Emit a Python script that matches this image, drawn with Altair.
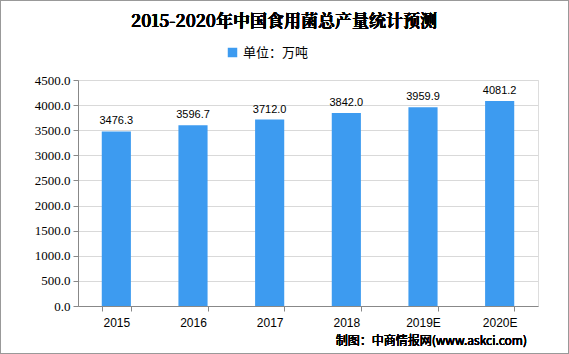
import altair as alt
import pandas as pd

years = ["2015", "2016", "2017", "2018", "2019E", "2020E"]
values = [3476.3, 3596.7, 3712.0, 3842.0, 3959.9, 4081.2]
series = "单位：万吨"
title_text = "2015-2020年中国食用菌总产量统计预测"
source_text = "制图：中商情报网(www.askci.com)"
y_ticks = [0, 500, 1000, 1500, 2000, 2500, 3000, 3500, 4000, 4500]

df = pd.DataFrame({"year": years, "value": values, "series": [series] * len(years)})

W, H = 460, 226
L, T = 78, 80

x = alt.X("year:N", sort=years, title=None,
          scale=alt.Scale(paddingInner=0.62, paddingOuter=0.31),
          axis=alt.Axis(labelAngle=0, tickBand="extent", domainColor="#888888", tickColor="#888888",
                        labelFont="Liberation Sans", labelFontSize=12, labelColor="#000000",
                        labelPadding=6, tickSize=5))
y = alt.Y("value:Q", title=None,
          scale=alt.Scale(domain=[0, 4500], nice=False),
          axis=alt.Axis(values=y_ticks, format=".1f", domainColor="#888888",
                        tickColor="#888888", gridColor="#d9d9d9", labelFont="Liberation Serif",
                        labelFontSize=13, labelColor="#000000", tickSize=5, labelPadding=3,
                        labelOverlap=False, labelFlush=False))

bars = alt.Chart(df).mark_bar(color="#3d9bf0").encode(
    x=x, y=y,
    color=alt.Color("series:N", scale=alt.Scale(range=["#3d9bf0"]),
                    legend=alt.Legend(title=None, orient="none", legendX=148, legendY=-34,
                                      symbolType="square", symbolSize=90, symbolStrokeWidth=0,
                                      labelFont="Noto Sans CJK SC", labelFontSize=13,
                                      labelColor="#000000")))

labels = alt.Chart(df).mark_text(dy=-10, fontSize=11, font="Liberation Sans", color="#000000").encode(
    x=x, y=y, text=alt.Text("value:Q", format=".1f"))

title = alt.Chart(df).mark_text(align="center", baseline="middle", fontSize=17, fontWeight="bold",
                                font="Noto Serif CJK SC, Noto Sans CJK SC", color="#000000").encode(
    x=alt.value(284 - L), y=alt.value(22 - T), text=alt.value(title_text))

source = alt.Chart(df).mark_text(align="right", baseline="middle", fontSize=12, fontWeight="normal",
                                 font="Noto Sans CJK SC", color="#000000").encode(
    x=alt.value(449), y=alt.value(261), text=alt.value(source_text))

border = alt.Chart(df).mark_rect(fill=None, stroke="#999999", strokeWidth=1).encode(
    x=alt.value(-L + 0.5), x2=alt.value(569 - L - 0.5), y=alt.value(-T + 0.5), y2=alt.value(354 - T - 0.5))

chart = alt.layer(bars, labels, title, source, border).properties(
    width=W, height=H,
    autosize=alt.AutoSizeParams(type="none"),
    padding={"left": L, "top": T, "right": 569 - L - W, "bottom": 354 - T - H},
).configure_view(stroke=None).configure(background="#ffffff")

chart.save("out.html", embed_options={"renderer": "svg", "actions": False})
